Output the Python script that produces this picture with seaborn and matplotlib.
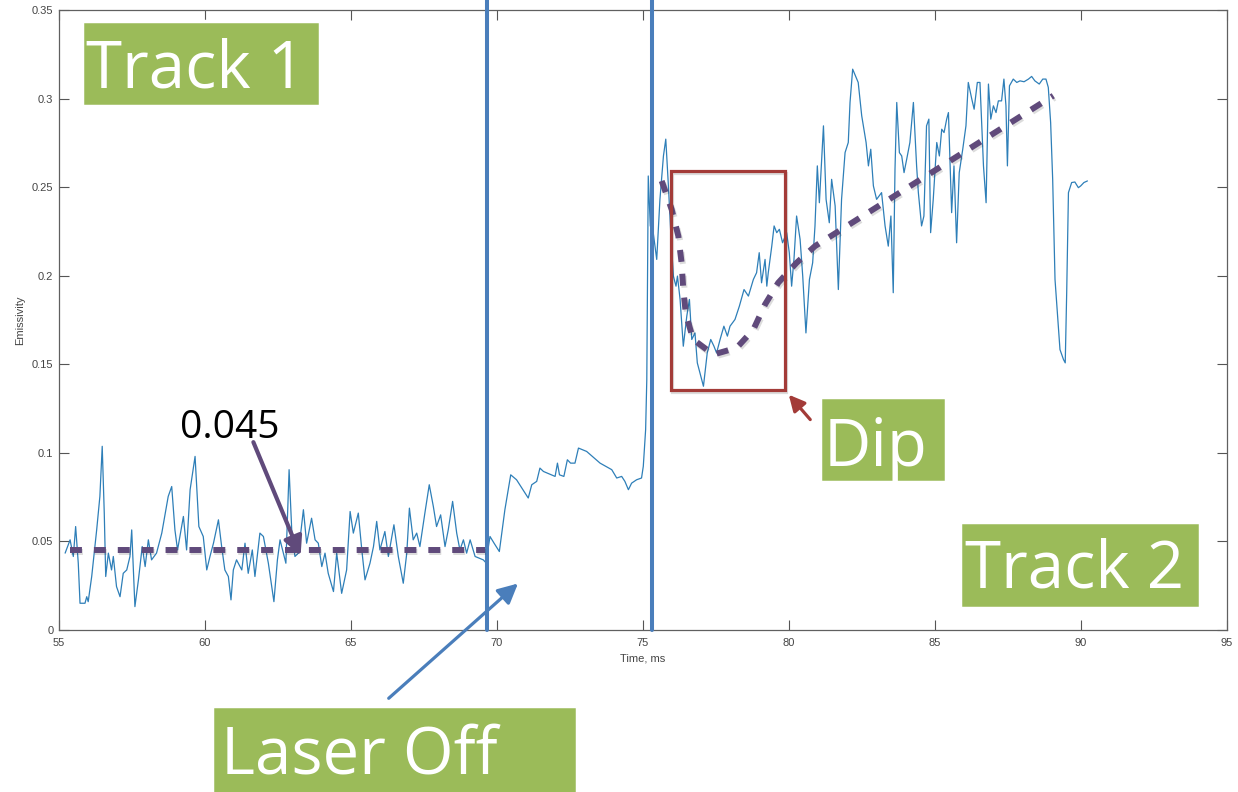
import numpy as np
import pandas as pd
import seaborn as sns
import matplotlib.pyplot as plt
from matplotlib.patches import Rectangle
import matplotlib.patheffects as pe

# ---- measured emissivity trace, split by process phase ----
track1_t = [55.21, 55.38, 55.49, 55.57, 55.66, 55.72, 55.89, 55.95, 56.00, 56.12,
            56.29, 56.40, 56.48, 56.55, 56.60, 56.69, 56.80, 56.86, 56.97, 57.09,
            57.20, 57.32, 57.43, 57.49, 57.60, 57.72, 57.85, 57.95, 58.06, 58.17,
            58.34, 58.52, 58.74, 58.86, 58.97, 59.06, 59.18, 59.26, 59.37, 59.49,
            59.66, 59.79, 59.94, 60.06, 60.17, 60.29, 60.46, 60.57, 60.68, 60.80,
            60.89, 60.97, 61.08, 61.26, 61.37, 61.48, 61.62, 61.71, 61.88, 62.00,
            62.17, 62.36, 62.48, 62.57, 62.77, 62.88, 62.97, 63.08, 63.20, 63.37,
            63.48, 63.65, 63.77, 63.88, 64.00, 64.11, 64.22, 64.40, 64.51, 64.68,
            64.85, 64.97, 65.08, 65.25, 65.37, 65.48, 65.65, 65.77, 65.88, 65.99,
            66.16, 66.28, 66.47, 66.62, 66.79, 66.91, 67.00, 67.13, 67.25, 67.36,
            67.53, 67.68, 67.82, 67.93, 68.07, 68.22, 68.33, 68.48, 68.62, 68.73,
            68.85, 68.96, 69.08, 69.25, 69.53, 69.62]
track1_e = [0.0434, 0.0509, 0.0415, 0.0584, 0.0377, 0.0151, 0.0151, 0.0188, 0.0160, 0.0302,
            0.0565, 0.0754, 0.1037, 0.0660, 0.0302, 0.0434, 0.0339, 0.0415, 0.0245, 0.0188,
            0.0320, 0.0339, 0.0415, 0.0565, 0.0132, 0.0283, 0.0471, 0.0358, 0.0509, 0.0396,
            0.0434, 0.0547, 0.0754, 0.0810, 0.0565, 0.0452, 0.0565, 0.0641, 0.0452, 0.0792,
            0.0980, 0.0584, 0.0528, 0.0339, 0.0415, 0.0490, 0.0622, 0.0471, 0.0339, 0.0302,
            0.0170, 0.0339, 0.0396, 0.0339, 0.0490, 0.0320, 0.0452, 0.0302, 0.0547, 0.0528,
            0.0377, 0.0160, 0.0396, 0.0509, 0.0377, 0.0905, 0.0565, 0.0415, 0.0434, 0.0679,
            0.0490, 0.0631, 0.0509, 0.0490, 0.0358, 0.0434, 0.0320, 0.0217, 0.0434, 0.0207,
            0.0339, 0.0669, 0.0547, 0.0660, 0.0452, 0.0283, 0.0377, 0.0471, 0.0613, 0.0452,
            0.0556, 0.0415, 0.0594, 0.0415, 0.0264, 0.0434, 0.0688, 0.0509, 0.0547, 0.0471,
            0.0660, 0.0820, 0.0697, 0.0584, 0.0650, 0.0471, 0.0565, 0.0726, 0.0547, 0.0452,
            0.0509, 0.0434, 0.0509, 0.0415, 0.0396, 0.0380]

laser_off_t = [69.76, 69.90, 70.08, 70.27, 70.47, 70.67, 71.07, 71.19, 71.36, 71.47,
               71.59, 71.99, 72.07, 72.14, 72.29, 72.41, 72.52, 72.67, 72.79, 73.07,
               73.53, 73.93, 74.10, 74.27, 74.38, 74.50, 74.61, 74.78, 74.95, 75.01,
               75.09, 75.13]
laser_off_e = [0.0528, 0.0490, 0.0443, 0.0679, 0.0876, 0.0848, 0.0745, 0.0820, 0.0839, 0.0914,
               0.0895, 0.0867, 0.0942, 0.0876, 0.0867, 0.0961, 0.0942, 0.0942, 0.1027, 0.1008,
               0.0942, 0.0905, 0.0858, 0.0867, 0.0839, 0.0792, 0.0829, 0.0848, 0.0858, 0.0924,
               0.1131, 0.1414]

track2_t = [75.18, 75.25, 75.30, 75.35, 75.47, 75.58, 75.70, 75.78, 75.87, 75.95,
            76.04, 76.13, 76.18, 76.27, 76.38, 76.50, 76.59, 76.67, 76.78, 76.86,
            76.95, 77.07, 77.20, 77.32, 77.43, 77.52, 77.64, 77.77, 77.89, 77.98,
            78.15, 78.30, 78.46, 78.61, 78.78, 78.89, 78.98, 79.06, 79.18, 79.24,
            79.29, 79.41, 79.49, 79.58, 79.67, 79.78, 79.92, 80.01, 80.09, 80.17,
            80.26, 80.38, 80.47, 80.58, 80.70, 80.81, 80.89, 80.97, 81.04, 81.18,
            81.27, 81.38, 81.46, 81.58, 81.69, 81.80, 81.92, 82.03, 82.09, 82.18,
            82.37, 82.49, 82.64, 82.72, 82.80, 82.89, 83.00, 83.17, 83.29, 83.40,
            83.49, 83.57, 83.63, 83.69, 83.78, 83.86, 83.94, 84.03, 84.14, 84.26,
            84.37, 84.43, 84.54, 84.62, 84.71, 84.79, 84.85, 84.94, 85.06, 85.15,
            85.23, 85.31, 85.40, 85.46, 85.57, 85.65, 85.74, 85.83, 85.95, 86.06,
            86.14, 86.26, 86.34, 86.45, 86.54, 86.66, 86.75, 86.83, 86.91, 87.00,
            87.09, 87.17, 87.28, 87.36, 87.43, 87.48, 87.55, 87.68, 87.80, 87.91,
            88.05, 88.20, 88.31, 88.42, 88.57, 88.69, 88.80, 88.88, 88.96, 89.03,
            89.11, 89.19, 89.28, 89.40, 89.46, 89.51, 89.57, 89.68, 89.79, 89.91,
            89.99, 90.10, 90.22]
track2_e = [0.2563, 0.2280, 0.2500, 0.2243, 0.2092, 0.2431, 0.2676, 0.2771, 0.2507, 0.2243,
            0.1998, 0.1941, 0.1998, 0.1866, 0.1602, 0.1772, 0.1866, 0.1640, 0.1677, 0.1508,
            0.1451, 0.1376, 0.1564, 0.1640, 0.1602, 0.1564, 0.1640, 0.1715, 0.1659, 0.1715,
            0.1753, 0.1828, 0.1922, 0.1885, 0.1979, 0.2017, 0.2130, 0.1960, 0.2092, 0.1941,
            0.2017, 0.2167, 0.2281, 0.2243, 0.2262, 0.2186, 0.2243, 0.2130, 0.1941, 0.2092,
            0.2337, 0.2205, 0.1998, 0.1677, 0.1979, 0.2073, 0.2281, 0.2620, 0.2412, 0.2846,
            0.2431, 0.2299, 0.2544, 0.2394, 0.1922, 0.2431, 0.2695, 0.2752, 0.2978, 0.3166,
            0.3091, 0.2903, 0.2752, 0.2620, 0.2714, 0.2507, 0.2431, 0.2469, 0.2281, 0.2167,
            0.2337, 0.1904, 0.2601, 0.2978, 0.2695, 0.2676, 0.2582, 0.2657, 0.2752, 0.2978,
            0.2620, 0.2469, 0.2281, 0.2337, 0.2846, 0.2884, 0.2243, 0.2431, 0.2752, 0.2676,
            0.2827, 0.2808, 0.2884, 0.2921, 0.2356, 0.2620, 0.2186, 0.2582, 0.2714, 0.2846,
            0.3091, 0.2997, 0.2940, 0.3091, 0.3091, 0.2620, 0.2412, 0.3082, 0.2884, 0.2959,
            0.2921, 0.2987, 0.2987, 0.3110, 0.2959, 0.2620, 0.3072, 0.3110, 0.3091, 0.3100,
            0.3095, 0.3110, 0.3125, 0.3100, 0.3082, 0.3110, 0.3110, 0.3063, 0.2865, 0.2544,
            0.1979, 0.1790, 0.1583, 0.1527, 0.1508, 0.1904, 0.2469, 0.2526, 0.2529, 0.2497,
            0.2507, 0.2526, 0.2535]

# mean level during track 1 and the trend through track 2
baseline_level = 0.045
baseline_t = [55.38, 69.59]
trend_t = [75.64, 75.98, 76.21, 76.32, 76.38, 76.47, 76.72, 77.41, 78.21, 78.78,
           79.18, 79.63, 80.26, 80.89, 89.05]
trend_e = [0.2535, 0.2375, 0.2224, 0.2075, 0.1922, 0.1781, 0.1640, 0.1555, 0.1593, 0.1696,
           0.1838, 0.1960, 0.2073, 0.2167, 0.3016]

laser_off_time = 69.66
track2_start_time = 75.31

x_ticks = [55, 60, 65, 70, 75, 80, 85, 90, 95]
y_ticks = [0, 0.05, 0.1, 0.15, 0.2, 0.25, 0.3, 0.35]
y_tick_labels = ["0", "0.05", "0.1", "0.15", "0.2", "0.25", "0.3", "0.35"]

df = pd.DataFrame({
    "Time, ms": track1_t + laser_off_t + track2_t,
    "Emissivity": track1_e + laser_off_e + track2_e,
})

sns.set_theme(style="ticks")
plt.rcParams["font.family"] = ["Liberation Sans", "DejaVu Sans"]

W, H = 1238, 792
fig = plt.figure(figsize=(W / 100, H / 100), dpi=100)
ax = fig.add_axes([59 / W, 1 - 630 / H, (1227 - 59) / W, 620 / H])

sns.lineplot(data=df, x="Time, ms", y="Emissivity", ax=ax, color="#2e7fb8",
             lw=0.9, sort=False, estimator=None, zorder=3)

ax.set_xlim(55, 95)
ax.set_ylim(0, 0.35)
ax.set_xticks(x_ticks)
ax.set_xticklabels([str(v) for v in x_ticks])
ax.set_yticks(y_ticks)
ax.set_yticklabels(y_tick_labels)
ax.tick_params(direction="in", length=7, width=0.8, top=True, right=True,
               labelsize=8, color="#555555", labelcolor="#454545")
ax.tick_params(axis="x", pad=6)
ax.tick_params(axis="y", pad=4)
for s in ax.spines.values():
    s.set_color("#606060")
    s.set_linewidth(0.9)
ax.set_xlabel("Time, ms", fontsize=8, color="#454545", labelpad=4)
ax.set_ylabel("Emissivity", fontsize=8, color="#454545", labelpad=5)

# laser switch markers
vcol = "#4a7ebb"
for t in (laser_off_time, track2_start_time):
    ax.axvline(t, ymin=0, ymax=1.017, color=vcol, lw=2.9, clip_on=False, zorder=4)

shadow = [pe.SimpleLineShadow(offset=(1, -1.5), shadow_color="k", alpha=0.15), pe.Normal()]
purple = "#604a7b"

ax.plot(baseline_t, [baseline_level, baseline_level], color=purple, lw=4.3,
        dashes=(2, 2), zorder=5, path_effects=shadow)
ax.plot(trend_t, trend_e, color=purple, lw=4.3, dashes=(2, 2), zorder=5,
        path_effects=shadow)

# dip highlight
red = "#a33b38"
dip = Rectangle((75.96, 0.1357), 3.90, 0.1233, fill=False, edgecolor=red, lw=2.3,
                zorder=6)
dip.set_path_effects([pe.SimpleLineShadow(offset=(1, -1.5), shadow_color="k", alpha=0.15),
                      pe.Normal()])
ax.add_patch(dip)

# arrows
ax.annotate("", xy=(63.31, 0.0405), xytext=(61.62, 0.1075),
            arrowprops=dict(arrowstyle="-|>", color=purple, lw=3, mutation_scale=28),
            zorder=7, annotation_clip=False)
ax.annotate("", xy=(70.79, 0.0273), xytext=(66.22, -0.0396),
            arrowprops=dict(arrowstyle="-|>", color=vcol, lw=2.3, mutation_scale=30),
            zorder=7, annotation_clip=False)
ax.annotate("", xy=(79.93, 0.1340), xytext=(80.79, 0.1176),
            arrowprops=dict(arrowstyle="-|>", color=red, lw=2.3, mutation_scale=24),
            zorder=7, annotation_clip=False)

fig.text(180 / W, 1 - 438 / H, "0.045", fontsize=28, color="black",
         family=["Open Sans", "DejaVu Sans"], ha="left", va="baseline", zorder=8)


def tag(x0, y0, x1, y1, text, tx, ty):
    box = Rectangle((x0 / W, 1 - y1 / H), (x1 - x0) / W, (y1 - y0) / H,
                    transform=fig.transFigure, facecolor="#9bbb59", edgecolor="white",
                    lw=2.5, zorder=9, clip_on=False)
    box.set_path_effects([pe.withSimplePatchShadow(offset=(1.5, -1.5), alpha=0.2)])
    fig.add_artist(box)
    fig.text(tx / W, 1 - ty / H, text, color="white", fontsize=47,
             family=["Open Sans", "DejaVu Sans"], ha="left", va="baseline", zorder=10)


tag(82, 21, 320, 106, "Track 1", 86, 87)
tag(960, 522, 1200, 608, "Track 2", 965, 588)
tag(820, 397, 946, 482, "Dip", 824, 466)
tag(212, 706, 577, 800, "Laser Off", 221, 773)

fig.savefig("out.png", dpi=100)
